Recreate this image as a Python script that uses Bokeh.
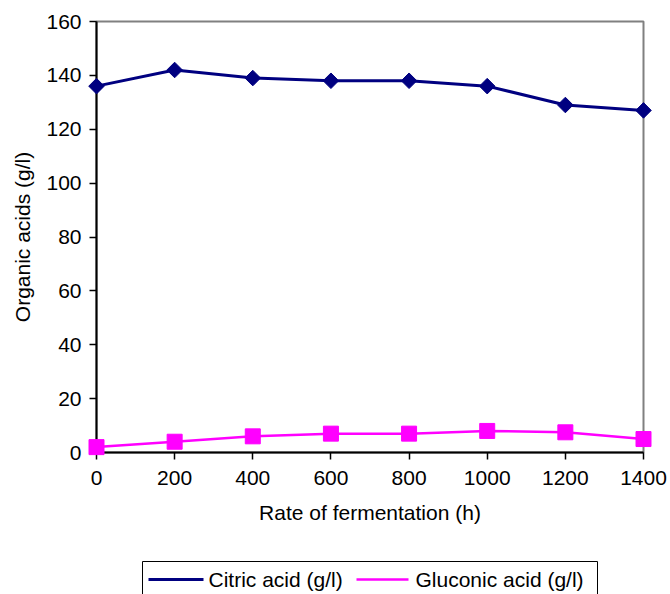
import numpy as np
from bokeh.plotting import figure
from bokeh.models import Range1d, FixedTicker
from bokeh.core.properties import value
from bokeh.embed import file_html
from bokeh.resources import INLINE

# Data
hours = [0, 200, 400, 600, 800, 1000, 1200, 1400]
citric_acid = [136, 142, 139, 138, 138, 136, 129, 127]
gluconic_acid = [2, 4, 6, 7, 7, 8, 7.5, 5]
x_ticks = [0, 200, 400, 600, 800, 1000, 1200, 1400]
y_ticks = [0, 20, 40, 60, 80, 100, 120, 140, 160]
series_labels = ["Citric acid (g/l)", "Gluconic acid (g/l)"]

FONT = "Liberation Sans"
FS = "21px"
NAVY = "#000080"
MAGENTA = "#FF00FF"

# layout (pixels)
W, H = 670, 594
LEFT, RIGHT, TOP, BOTTOM = 96, 27, 21, 142
X0, X1, Y0, Y1 = 0, 1400, 0, 160

p = figure(width=W, height=H, output_backend="svg", toolbar_location=None,
           x_range=Range1d(X0, X1), y_range=Range1d(Y0, Y1),
           min_border_left=LEFT, min_border_right=RIGHT,
           min_border_top=TOP, min_border_bottom=BOTTOM)
p.grid.visible = False
p.background_fill_color = "white"
p.border_fill_color = "white"
p.outline_line_color = "#808080"
p.outline_line_width = 2

for ax in (p.xaxis[0], p.yaxis[0]):
    ax.axis_line_color = "black"
    ax.axis_line_width = 2
    ax.major_tick_line_color = "black"
    ax.major_tick_line_width = 1.5
    ax.major_tick_in = 0
    ax.major_tick_out = 7
    ax.minor_tick_line_color = None
    ax.major_label_text_font = FONT
    ax.major_label_text_font_size = FS
    ax.major_label_text_color = "black"
    ax.axis_label_text_font = FONT
    ax.axis_label_text_font_size = FS
    ax.axis_label_text_font_style = "normal"
    ax.axis_label_text_color = "black"

p.xaxis.ticker = FixedTicker(ticks=x_ticks)
p.yaxis.ticker = FixedTicker(ticks=y_ticks)
p.xaxis.axis_label = "Rate of fermentation (h)"
p.yaxis.axis_label = "Organic acids (g/l)"
p.xaxis.major_label_standoff = 11
p.yaxis.major_label_standoff = 8
p.xaxis.axis_label_standoff = 13
p.yaxis.axis_label_standoff = 9

p.line(hours, citric_acid, line_color=NAVY, line_width=3, level="overlay")
p.scatter(hours, citric_acid, marker="square", angle=np.pi / 4, size=11,
          fill_color=NAVY, line_color=NAVY, level="overlay")
p.line(hours, gluconic_acid, line_color=MAGENTA, line_width=2.5, level="overlay")
p.scatter(hours, gluconic_acid, marker="square", size=15,
          fill_color=MAGENTA, line_color=MAGENTA, level="overlay")

# ---- legend key below the plot (screen pixels mapped through the frame scales)
FW = W - LEFT - RIGHT
FH = H - TOP - BOTTOM


def sx(px):
    return X0 + (px - LEFT) / FW * (X1 - X0)


def sy(py):
    return Y0 + (TOP + FH - py) / FH * (Y1 - Y0)


ROW = 579
p.quad(left=[sx(142)], right=[sx(597)], top=[sy(561)], bottom=[sy(602)],
       fill_color="white", line_color="black", line_width=1, level="overlay")
p.segment(x0=[sx(148)], y0=[sy(ROW)], x1=[sx(203)], y1=[sy(ROW)],
          line_color=NAVY, line_width=3, level="overlay")
p.scatter([sx(176)], [sy(ROW)], marker="square", angle=np.pi / 4, size=9.5,
          fill_color=NAVY, line_color=NAVY, level="overlay")
p.segment(x0=[sx(356)], y0=[sy(ROW)], x1=[sx(408)], y1=[sy(ROW)],
          line_color=MAGENTA, line_width=2.5, level="overlay")
p.scatter([sx(382)], [sy(ROW)], marker="square", size=13,
          fill_color=MAGENTA, line_color=MAGENTA, level="overlay")
p.text(x=[sx(208), sx(415)], y=[sy(ROW), sy(ROW)], text=series_labels,
       text_font=value(FONT), text_font_size=value(FS), text_color="black",
       text_align="left", text_baseline="middle", level="overlay")

open("out.html", "w").write(file_html(p, INLINE))
